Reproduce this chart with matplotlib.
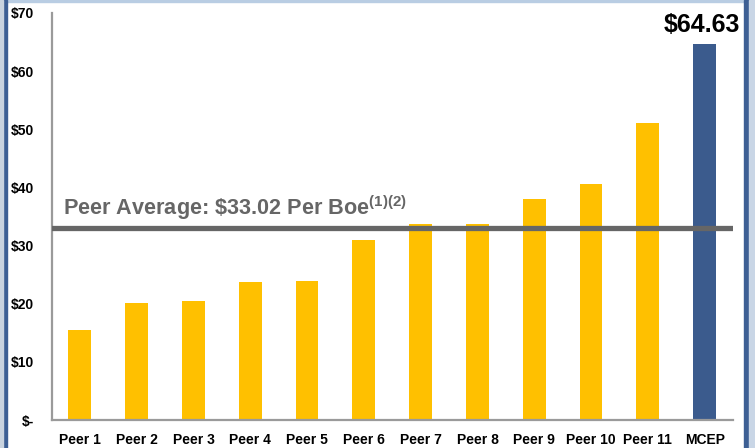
import matplotlib
matplotlib.use("Agg")
import matplotlib.pyplot as plt
from matplotlib.patches import Rectangle

categories = ["Peer 1", "Peer 2", "Peer 3", "Peer 4", "Peer 5", "Peer 6",
              "Peer 7", "Peer 8", "Peer 9", "Peer 10", "Peer 11", "MCEP"]
values = [15.5, 20.2, 20.4, 23.7, 23.9, 31.0, 33.7, 33.7, 38.0, 40.6, 51.0, 64.63]
peer_average = 33.02
y_ticks = [0, 10, 20, 30, 40, 50, 60, 70]
y_tick_labels = ["\\$-", "\\$10", "\\$20", "\\$30", "\\$40", "\\$50", "\\$60", "\\$70"]
highlight_label = "\\$64.63"
avg_label = r"Peer Average: \$33.02 Per Boe$^{\mathbf{(1)(2)}}$"

plt.rcParams['font.family'] = ['Liberation Sans', 'DejaVu Sans']
plt.rcParams['mathtext.fontset'] = 'custom'
plt.rcParams['mathtext.bf'] = 'Liberation Sans:bold'
plt.rcParams['mathtext.rm'] = 'Liberation Sans'

fig = plt.figure(figsize=(7.55, 4.48), dpi=100)
fig.patch.set_facecolor("white")

# frame decorations
fig.patches.append(Rectangle((0, 0.995), 1, 0.005, transform=fig.transFigure,
                             color="#b9cde3", zorder=0))
fig.patches.append(Rectangle((0.004, 0), 0.005, 1, transform=fig.transFigure,
                             color="#3d5f94", zorder=0))
fig.patches.append(Rectangle((0.986, 0), 0.006, 1, transform=fig.transFigure,
                             color="#3d5f94", zorder=0))
fig.patches.append(Rectangle((0.992, 0), 0.008, 1, transform=fig.transFigure,
                             color="#c9d6e6", zorder=0))
fig.patches.append(Rectangle((0, 0), 0.004, 1, transform=fig.transFigure,
                             color="#c9d3df", zorder=0))

ax = fig.add_axes([0.0689, 0.0625, 0.902, 0.9085])
x = list(range(len(categories)))
colors = ["#FFC000"] * (len(categories) - 1) + ["#3B5B8D"]
ax.bar(x, values, width=0.4, color=colors, zorder=2)

ax.axhline(peer_average, color="#666666", linewidth=3.8, zorder=3)
ax.text(-0.3, peer_average + 1.1, avg_label, color="#666666", fontsize=15.6,
        fontweight="bold", ha="left", va="bottom", zorder=4)

ax.text(x[-1] - 0.05, values[-1] + 1.2, highlight_label, fontsize=18, fontweight="bold",
        ha="center", va="bottom", color="black")

ax.set_xlim(-0.49, 11.5)
ax.set_ylim(0, 70)
ax.set_yticks(y_ticks)
ax.set_yticklabels(y_tick_labels, fontsize=10, fontweight="bold")
ax.set_xticks(x)
ax.set_xticklabels(categories, fontsize=10, fontweight="bold")
ax.tick_params(axis="both", length=0)
ax.tick_params(axis="y", pad=13)
ax.tick_params(axis="x", pad=9)

for s in ["top", "right"]:
    ax.spines[s].set_visible(False)
for s in ["left", "bottom"]:
    ax.spines[s].set_color("#9a9a9a")
    ax.spines[s].set_linewidth(1.6)
ax.set_facecolor("none")

fig.savefig("out.png", dpi=100)
